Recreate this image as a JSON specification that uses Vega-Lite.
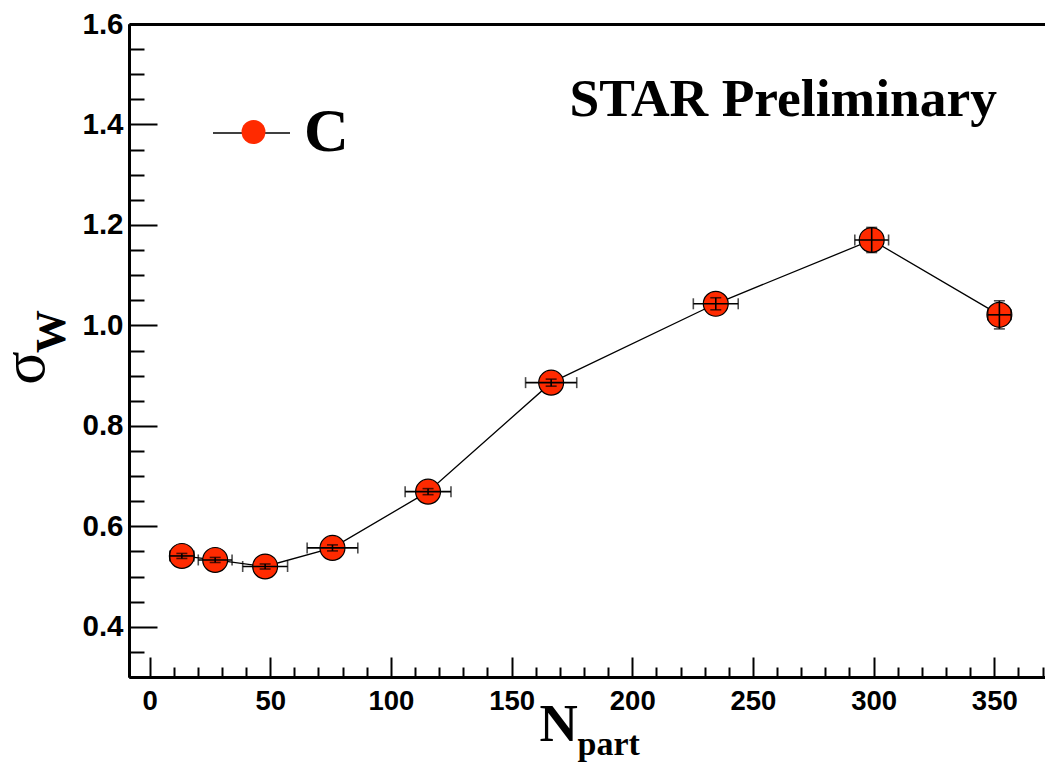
{
  "$schema": "https://vega.github.io/schema/vega-lite/v6.json",
  "width": 916,
  "height": 653,
  "autosize": {"type": "none"},
  "padding": {"left": 129, "top": 24, "right": 0, "bottom": 85},
  "background": "white",
  "title": {
    "text": "STAR Preliminary",
    "anchor": "end",
    "frame": "group",
    "orient": "top",
    "offset": 0,
    "dx": -48,
    "dy": 160,
    "baseline": "alphabetic",
    "font": "Liberation Serif",
    "fontSize": 53.5,
    "fontWeight": "bold",
    "color": "black"
  },
  "data": {
    "values": [
      {"series": "C", "npart": 13.4, "sigma": 0.541, "npartErr": 5.0, "sigmaErr": 0.005},
      {"series": "C", "npart": 27.2, "sigma": 0.533, "npartErr": 7.0, "sigmaErr": 0.005},
      {"series": "C", "npart": 47.9, "sigma": 0.520, "npartErr": 9.3, "sigmaErr": 0.005},
      {"series": "C", "npart": 75.8, "sigma": 0.557, "npartErr": 10.5, "sigmaErr": 0.006},
      {"series": "C", "npart": 115.4, "sigma": 0.669, "npartErr": 9.5, "sigmaErr": 0.006},
      {"series": "C", "npart": 166.4, "sigma": 0.886, "npartErr": 10.6, "sigmaErr": 0.007},
      {"series": "C", "npart": 234.6, "sigma": 1.043, "npartErr": 9.3, "sigmaErr": 0.012},
      {"series": "C", "npart": 299.2, "sigma": 1.170, "npartErr": 7.0, "sigmaErr": 0.025},
      {"series": "C", "npart": 352.1, "sigma": 1.021, "npartErr": 4.8, "sigmaErr": 0.028}
    ]
  },
  "config": {
    "view": {"stroke": null},
    "axis": {
      "grid": false,
      "domainColor": "black",
      "domainWidth": 3,
      "tickColor": "black",
      "tickWidth": 2,
      "labelColor": "black",
      "titleColor": "black",
      "labelFont": "Liberation Sans",
      "labelFontWeight": "bold",
      "labelFlush": false,
      "labelOverlap": false
    },
    "legend": {"padding": 0, "title": null}
  },
  "layer": [
    {
      "encoding": {
        "x": {
          "field": "npart",
          "type": "quantitative",
          "scale": {"domain": [-8.5, 371], "nice": false, "zero": false},
          "axis": {
            "orient": "bottom",
            "values": [0, 50, 100, 150, 200, 250, 300, 350],
            "format": "d",
            "tickSize": -20,
            "labelFontSize": 27.5,
            "labelPadding": 30,
            "title": "N",
            "titleFont": "Liberation Serif",
            "titleFontWeight": "bold",
            "titleFontSize": 53,
            "titleAlign": "left",
            "titleBaseline": "alphabetic",
            "titleAngle": 0,
            "titleX": 410,
            "titleY": 63
          }
        },
        "y": {
          "field": "sigma",
          "type": "quantitative",
          "scale": {"domain": [0.3, 1.6], "nice": false, "zero": false},
          "axis": {
            "orient": "left",
            "values": [0.4, 0.6, 0.8, 1.0, 1.2, 1.4, 1.6],
            "format": ".1f",
            "tickSize": -28,
            "labelFontSize": 29.5,
            "labelPadding": 34,
            "title": "σ",
            "titleFont": "Liberation Serif",
            "titleFontWeight": "normal",
            "titleFontSize": 62,
            "titleAngle": -90,
            "titleAlign": "center",
            "titleBaseline": "alphabetic",
            "titleX": -86,
            "titleY": 343.5
          }
        }
      },
      "layer": [
        {
          "mark": {"type": "line", "strokeWidth": 1.3},
          "encoding": {
            "stroke": {
              "field": "series",
              "type": "nominal",
              "scale": {"range": ["black"]},
              "legend": {
                "orient": "none",
                "legendX": 83,
                "legendY": 69.5,
                "symbolType": "stroke",
                "symbolSize": 5929,
                "symbolStrokeWidth": 1.5,
                "labelExpr": "''"
              }
            }
          }
        },
        {
          "mark": {"type": "circle", "size": 620, "opacity": 1, "stroke": "black", "strokeWidth": 1.2},
          "encoding": {
            "fill": {
              "field": "series",
              "type": "nominal",
              "scale": {"range": ["#ff2a00"]},
              "legend": {
                "orient": "none",
                "legendX": 93.5,
                "legendY": 77,
                "symbolType": "circle",
                "symbolSize": 572,
                "symbolStrokeWidth": 0,
                "symbolOpacity": 1,
                "labelFont": "Liberation Serif",
                "labelFontWeight": "bold",
                "labelFontSize": 62,
                "labelColor": "black",
                "labelOffset": 19.5
              }
            }
          }
        },
        {
          "mark": {"type": "errorbar", "color": "black", "thickness": 1.6, "ticks": {"size": 11}},
          "encoding": {"xError": {"field": "npartErr"}}
        },
        {
          "mark": {"type": "errorbar", "color": "black", "thickness": 1.6, "ticks": {"size": 11}},
          "encoding": {"yError": {"field": "sigmaErr"}}
        }
      ]
    },
    {
      "mark": {"type": "point", "opacity": 0},
      "encoding": {
        "x": {
          "field": "npart",
          "type": "quantitative",
          "scale": {"domain": [-8.5, 371], "nice": false, "zero": false},
          "axis": {
            "orient": "bottom",
            "values": [10, 20, 30, 40, 60, 70, 80, 90, 110, 120, 130, 140, 160, 170, 180, 190, 210, 220, 230, 240, 260, 270, 280, 290, 310, 320, 330, 340, 360, 370],
            "tickSize": -10,
            "labels": false,
            "title": "part",
            "titleFont": "Liberation Serif",
            "titleFontWeight": "bold",
            "titleFontSize": 34,
            "titleAlign": "left",
            "titleBaseline": "alphabetic",
            "titleAngle": 0,
            "titleX": 448,
            "titleY": 77
          }
        },
        "y": {
          "field": "sigma",
          "type": "quantitative",
          "scale": {"domain": [0.3, 1.6], "nice": false, "zero": false},
          "axis": {
            "orient": "left",
            "values": [0.35, 0.45, 0.5, 0.55, 0.65, 0.7, 0.75, 0.85, 0.9, 0.95, 1.05, 1.1, 1.15, 1.25, 1.3, 1.35, 1.45, 1.5, 1.55],
            "tickSize": -15,
            "labels": false,
            "title": "W",
            "titleFont": "Liberation Serif",
            "titleFontWeight": "bold",
            "titleFontSize": 43,
            "titleAngle": -90,
            "titleAlign": "center",
            "titleBaseline": "alphabetic",
            "titleX": -65,
            "titleY": 307
          }
        }
      }
    },
    {
      "mark": {"type": "point", "opacity": 0},
      "encoding": {
        "x": {
          "field": "npart",
          "type": "quantitative",
          "scale": {"domain": [-8.5, 371], "nice": false, "zero": false},
          "axis": {"orient": "top", "ticks": false, "labels": false, "title": null, "domainWidth": 3}
        },
        "y": {
          "field": "sigma",
          "type": "quantitative",
          "axis": null
        }
      }
    }
  ],
  "resolve": {"axis": {"x": "independent", "y": "independent"}}
}
